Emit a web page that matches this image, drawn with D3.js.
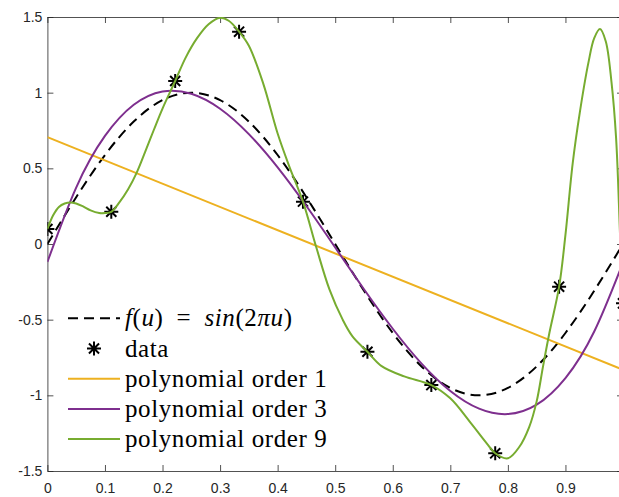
<!DOCTYPE html>
<html>
<head>
<meta charset="utf-8">
<script src="https://cdn.jsdelivr.net/npm/d3@7"></script>
<style>
  body { margin: 0; background: #fff; }
  svg { display: block; }
</style>
</head>
<body>
<svg id="chart" width="619" height="497">
  <g id="legend-labels" fill="#000" font-family="Liberation Serif" font-size="25" letter-spacing="0.6">
    <text><tspan font-style="italic">f</tspan>(<tspan font-style="italic">u</tspan>)&#8194;=&#8194;<tspan font-style="italic">sin</tspan>(2<tspan font-style="italic">πu</tspan>)</text>
    <text>data</text>
    <text>polynomial order 1</text>
    <text>polynomial order 3</text>
    <text>polynomial order 9</text>
  </g>
</svg>
<script>
// samples
const dataU = [0, 0.111, 0.222, 0.333, 0.444, 0.556, 0.667, 0.778, 0.889, 1];
const dataV = [0.099, 0.213, 1.077, 1.403, 0.280, -0.712, -0.932, -1.383, -0.282, -0.392];

const gridU = [0, 0.05, 0.1, 0.15, 0.2, 0.25, 0.3, 0.35, 0.4, 0.45, 0.5,
  0.55, 0.6, 0.65, 0.7, 0.75, 0.8, 0.85, 0.9, 0.95, 1];
const sineV = [0, 0.309, 0.588, 0.809, 0.951, 1, 0.951, 0.809, 0.588, 0.309, 0,
  -0.309, -0.588, -0.809, -0.951, -1, -0.951, -0.809, -0.588, -0.309, 0];
const order3V = [-0.119, 0.373, 0.714, 0.920, 1.008, 0.993, 0.894, 0.726, 0.506, 0.251, -0.023,
  -0.299, -0.560, -0.790, -0.971, -1.088, -1.124, -1.062, -0.886, -0.578, -0.122];

const order1U = [0, 1];
const order1V = [0.706, -0.831];

const order9U = [0, 0.01, 0.02, 0.03, 0.04, 0.05, 0.062, 0.075, 0.09, 0.1, 0.111, 0.125,
  0.14, 0.155, 0.17, 0.185, 0.2, 0.222, 0.24, 0.26, 0.28, 0.3, 0.315, 0.333, 0.35, 0.375,
  0.4, 0.42, 0.444, 0.467, 0.49, 0.513, 0.53, 0.556, 0.58, 0.62, 0.667, 0.7, 0.735, 0.765,
  0.778, 0.8, 0.82, 0.837, 0.85, 0.861, 0.872, 0.889, 0.9, 0.9125, 0.925, 0.94, 0.95,
  0.96, 0.97, 0.98, 0.988, 0.995, 1];
const order9V = [0.099, 0.19, 0.245, 0.268, 0.275, 0.268, 0.248, 0.222, 0.205, 0.205, 0.213, 0.275,
  0.36, 0.47, 0.61, 0.755, 0.895, 1.077, 1.23, 1.36, 1.452, 1.495, 1.475, 1.403, 1.31, 1.06,
  0.73, 0.515, 0.28, -0.02, -0.30, -0.50, -0.61, -0.712, -0.805, -0.875, -0.932, -1.02, -1.18, -1.325,
  -1.383, -1.416, -1.34, -1.21, -1.04, -0.81, -0.59, -0.282, 0.06, 0.53, 0.87, 1.2, 1.36,
  1.42, 1.34, 1.07, 0.7, 0.05, -0.392];

const xTicks = [0, 0.1, 0.2, 0.3, 0.4, 0.5, 0.6, 0.7, 0.8, 0.9];
const yTicks = [-1.5, -1, -0.5, 0, 0.5, 1, 1.5];

const legendLabels = ['f(u) = sin(2πu)', 'data', 'polynomial order 1', 'polynomial order 3', 'polynomial order 9'];
const colors = { sine: '#000', order1: '#EDB120', order3: '#7E2F8E', order9: '#77AC30' };

const svg = d3.select('#chart');
const axisColor = '#262626';

const x = d3.scaleLinear().domain([0, 1]).range([47.4, 623]);
const y = d3.scaleLinear().domain([-1.5, 1.5]).range([471, 17]);

const zip = (us, vs) => us.map((u, i) => [u, vs[i]]);
const lineGen = (curve) => d3.line()
  .x(d => x(d[0]))
  .y(d => y(d[1]))
  .curve(curve);

svg.append('defs')
  .append('clipPath')
  .attr('id', 'plot-clip')
  .append('rect')
  .attr('x', x(0))
  .attr('y', y(1.5))
  .attr('width', x(1) - x(0))
  .attr('height', y(-1.5) - y(1.5));

// axes, ticks pointing inward like matlab
const fmt = d => String(d);
const styleAxis = (g) => {
  g.attr('font-family', null).attr('font-size', null);
  g.selectAll('path, line').attr('stroke', axisColor).attr('stroke-width', 0.8);
  g.selectAll('text')
    .attr('fill', axisColor)
    .attr('font-family', 'Liberation Sans')
    .attr('font-size', 14);
};

svg.append('g')
  .attr('transform', `translate(0, ${y(-1.5)})`)
  .call(d3.axisBottom(x).tickValues(xTicks).tickFormat(fmt).tickSizeInner(-6).tickSizeOuter(0).tickPadding(12))
  .call(styleAxis);

svg.append('g')
  .attr('transform', `translate(0, ${y(1.5)})`)
  .call(d3.axisTop(x).tickValues(xTicks).tickFormat('').tickSizeInner(-6).tickSizeOuter(0))
  .call(styleAxis);

svg.append('g')
  .attr('transform', `translate(${x(0)}, 0)`)
  .call(d3.axisLeft(y).tickValues(yTicks).tickFormat(fmt).tickSizeInner(-6).tickSizeOuter(0).tickPadding(5))
  .call(styleAxis);

svg.append('g')
  .attr('transform', `translate(${x(1)}, 0)`)
  .call(d3.axisRight(y).tickValues(yTicks).tickFormat('').tickSizeInner(-6).tickSizeOuter(0))
  .call(styleAxis);

svg.selectAll('.domain').attr('fill', 'none');

const plot = svg.append('g').attr('clip-path', 'url(#plot-clip)');

plot.append('path')
  .datum(zip(gridU, sineV))
  .attr('d', lineGen(d3.curveNatural))
  .attr('fill', 'none')
  .attr('stroke', colors.sine)
  .attr('stroke-width', 2)
  .attr('stroke-dasharray', '10,6');

const starPath = (r) => {
  const d = r * 0.72;
  return `M${-r},0L${r},0M0,${-r}L0,${r}M${-d},${-d}L${d},${d}M${-d},${d}L${d},${-d}`;
};

plot.selectAll('.star')
  .data(zip(dataU, dataV))
  .enter()
  .append('path')
  .attr('class', 'star')
  .attr('transform', d => `translate(${x(d[0])}, ${y(d[1])})`)
  .attr('d', starPath(7))
  .attr('fill', 'none')
  .attr('stroke', '#000')
  .attr('stroke-width', 2);

plot.append('path')
  .datum(zip(order1U, order1V))
  .attr('d', lineGen(d3.curveLinear))
  .attr('fill', 'none')
  .attr('stroke', colors.order1)
  .attr('stroke-width', 2);

plot.append('path')
  .datum(zip(gridU, order3V))
  .attr('d', lineGen(d3.curveNatural))
  .attr('fill', 'none')
  .attr('stroke', colors.order3)
  .attr('stroke-width', 2);

plot.append('path')
  .datum(zip(order9U, order9V))
  .attr('d', lineGen(d3.curveCatmullRom.alpha(0.5)))
  .attr('fill', 'none')
  .attr('stroke', colors.order9)
  .attr('stroke-width', 2);

// legend (no box): samples drawn here, labels are the static texts above
const legendX = 68, legendW = 52, rowY0 = 318.3, rowGap = 30.2;
const legendSamples = svg.append('g');
legendLabels.forEach((d, i) => {
  const g = legendSamples.append('g')
    .attr('transform', `translate(${legendX}, ${rowY0 + i * rowGap})`);
  if (i === 1) {
    g.append('path')
      .attr('transform', `translate(${legendW / 2}, 0)`)
      .attr('d', starPath(7))
      .attr('fill', 'none')
      .attr('stroke', '#000')
      .attr('stroke-width', 2);
  } else {
    const stroke = [colors.sine, null, colors.order1, colors.order3, colors.order9][i];
    g.append('line')
      .attr('x1', 0).attr('x2', legendW)
      .attr('stroke', stroke)
      .attr('stroke-width', 2)
      .attr('stroke-dasharray', i === 0 ? '10,6' : null);
  }
});

d3.select('#legend-labels')
  .selectAll('text')
  .data(legendLabels)
  .attr('x', legendX + legendW + 5)
  .attr('y', (d, i) => rowY0 + i * rowGap + 8);
</script>
</body>
</html>
